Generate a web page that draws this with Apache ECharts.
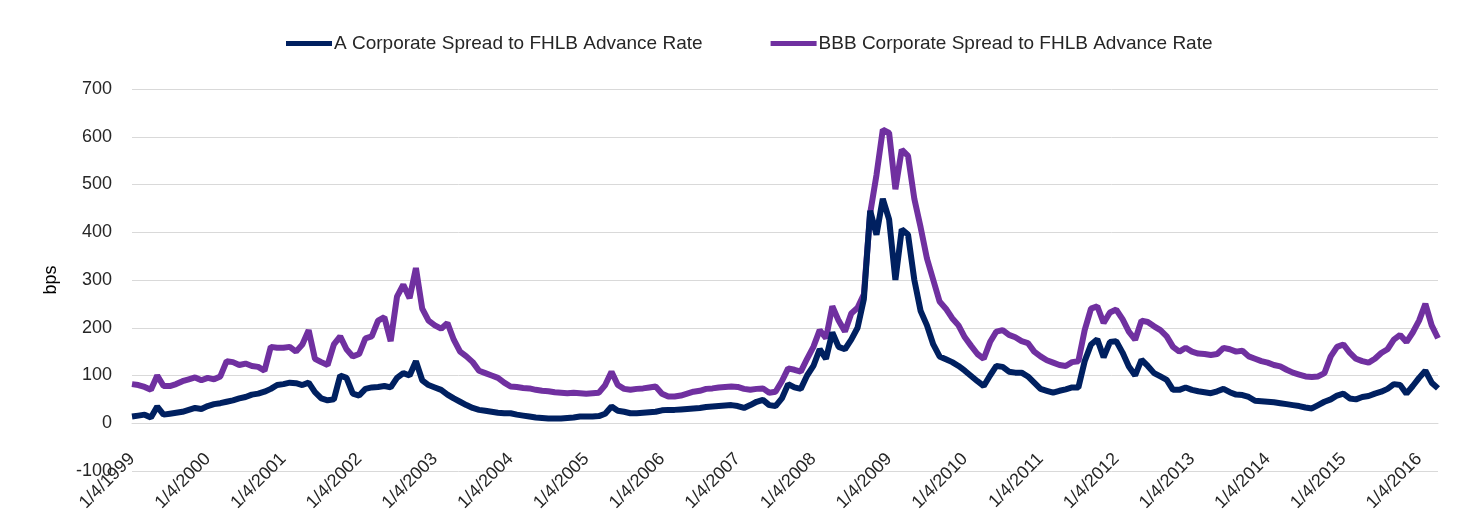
<!DOCTYPE html>
<html>
<head>
<meta charset="utf-8">
<script src="https://cdn.jsdelivr.net/npm/echarts@6/dist/echarts.min.js"></script>
<style>
html,body{margin:0;padding:0;background:#fff;}
#chart{width:1465px;height:526px;}
</style>
</head>
<body>
<div id="chart"></div>
<script>
const startYear = 1999;
const seriesNames = ["A Corporate Spread to FHLB Advance Rate", "BBB Corporate Spread to FHLB Advance Rate"];
const yTicks = [-100, 0, 100, 200, 300, 400, 500, 600, 700];

const aSpread = [
  // 1999
  14, 16, 18, 12, 35, 18, 20, 22, 24, 28, 32, 30,
  // 2000
  36, 40, 42, 45, 48, 52, 55, 60, 62, 66, 72, 80,
  // 2001
  82, 85, 84, 80, 85, 65, 52, 48, 50, 100, 95, 62,
  // 2002
  58, 72, 75, 76, 78, 75, 95, 105, 100, 130, 90, 80,
  // 2003
  75, 70, 60, 52, 45, 38, 32, 28, 26, 24, 22, 21,
  // 2004
  21, 18, 16, 14, 12, 11, 10, 10, 10, 11, 12, 14,
  // 2005
  14, 14, 15, 20, 35, 26, 24, 21, 21, 22, 23, 24,
  // 2006
  27, 28, 28, 29, 30, 31, 32, 34, 35, 36, 37, 38,
  // 2007
  36, 32, 38, 45, 49, 38, 36, 52, 82, 75, 72, 100,
  // 2008
  120, 155, 135, 190, 160, 155, 175, 200, 260, 445, 395, 470,
  // 2009
  427, 300, 406, 395, 300, 235, 205, 165, 140, 134, 128, 120,
  // 2010
  110, 99, 88, 78, 100, 120, 118, 108, 106, 106, 98, 85,
  // 2011
  72, 68, 64, 68, 71, 75, 75, 130, 165, 176, 138, 170,
  // 2012
  172, 148, 119, 100, 133, 120, 105, 98, 91, 70, 70, 75,
  // 2013
  70, 67, 65, 63, 67, 72, 65, 60, 59, 55, 47, 46,
  // 2014
  45, 44, 42, 40, 38, 36, 33, 31, 38, 45, 50, 58,
  // 2015
  62, 52, 50, 55, 57, 62, 66, 72, 82, 80, 62, 78,
  // 2016
  95, 110, 85, 73
];

const bbbSpread = [
  // 1999
  82, 80, 76, 70, 100, 78, 78, 82, 88, 92, 96, 90,
  // 2000
  95, 92, 98, 130, 128, 122, 125, 120, 118, 110, 160, 158,
  // 2001
  158, 160, 150, 165, 195, 135, 128, 122, 165, 182, 155, 140,
  // 2002
  145, 178, 182, 215, 222, 172, 265, 290, 262, 325, 240, 215,
  // 2003
  205, 198, 210, 175, 150, 140, 128, 110, 105, 100, 95, 85,
  // 2004
  77, 76, 74, 73, 70, 68, 67, 65, 64, 63, 64, 63,
  // 2005
  62, 63, 64, 80, 108, 80, 72, 70, 72, 73, 75, 77,
  // 2006
  62, 56, 56, 58, 62, 66, 68, 72, 73, 75, 76, 77,
  // 2007
  76, 72, 70, 72, 73, 64, 66, 88, 115, 112, 108, 135,
  // 2008
  160, 195, 178, 245, 215, 192, 230, 242, 270, 440, 520, 615,
  // 2009
  608, 490, 573, 560, 470, 410, 345, 300, 255, 240, 220, 205,
  // 2010
  180, 162, 145, 135, 170, 192, 195, 185, 180, 172, 168, 150,
  // 2011
  140, 132, 127, 122, 120, 128, 130, 195, 240, 245, 210, 232,
  // 2012
  238, 218, 192, 175, 215, 212, 203, 195, 182, 160, 150, 158,
  // 2013
  150, 146, 145, 143, 145, 158, 155, 150, 152, 140, 135, 130,
  // 2014
  127, 122, 119, 112, 106, 102, 98, 97, 98, 105, 140, 160,
  // 2015
  165, 148, 135, 130, 127, 135, 147, 155, 175, 185, 170, 190,
  // 2016
  215, 250, 205, 178
];

// Category labels: one per month; January labels read "1/4/YYYY"
const categories = aSpread.map(function (_, i) {
  const y = startYear + Math.floor(i / 12);
  const m = (i % 12) + 1;
  return m + "/4/" + y;
});

const chart = echarts.init(document.getElementById('chart'), null, {renderer: 'canvas'});
const fontFam = "'Liberation Sans', Arial, sans-serif";
const gridTop = 89, gridBottom = 55, chartH = 526;
const plotH = chartH - gridTop - gridBottom;
// Place the category axis at value 0 (Excel-style crossing)
const zeroOffset = -plotH * (0 - yTicks[0]) / (yTicks[yTicks.length - 1] - yTicks[0]);

chart.setOption({
  animation: false,
  backgroundColor: '#ffffff',
  legend: {
    top: 29,
    left: 281,
    itemWidth: 46,
    itemHeight: 5,
    itemGap: 68,
    icon: 'rect',
    textStyle: {fontFamily: fontFam, fontSize: 19, color: '#262626', padding: [0, 0, 0, -3]},
    data: seriesNames
  },
  grid: {left: 132, right: 27, top: gridTop, bottom: gridBottom, containLabel: false, outerBoundsMode: 'none'},
  xAxis: {
    type: 'category',
    data: categories,
    boundaryGap: false,
    offset: zeroOffset,
    axisLine: {show: true, onZero: false, lineStyle: {color: '#d9d9d9'}},
    axisTick: {show: false},
    splitLine: {show: false},
    axisLabel: {
      interval: 11,
      rotate: 45,
      margin: 33,
      fontFamily: fontFam,
      fontSize: 18,
      color: '#262626'
    }
  },
  yAxis: {
    type: 'value',
    min: yTicks[0],
    max: yTicks[yTicks.length - 1],
    interval: 100,
    name: 'bps',
    nameLocation: 'middle',
    nameGap: 72,
    nameRotate: 90,
    nameTextStyle: {fontFamily: fontFam, fontSize: 18, color: '#000'},
    axisLine: {show: false},
    axisTick: {show: false},
    axisLabel: {fontFamily: fontFam, fontSize: 18, color: '#262626', margin: 20},
    splitLine: {lineStyle: {color: '#d9d9d9', width: 1}}
  },
  series: [
    {
      name: seriesNames[0],
      type: 'line',
      data: aSpread,
      showSymbol: false,
      symbol: 'none',
      lineStyle: {color: '#002060', width: 6},
      itemStyle: {color: '#002060'},
      z: 3
    },
    {
      name: seriesNames[1],
      type: 'line',
      data: bbbSpread,
      showSymbol: false,
      symbol: 'none',
      lineStyle: {color: '#7030A0', width: 6},
      itemStyle: {color: '#7030A0'},
      z: 2
    }
  ]
});
</script>
</body>
</html>
